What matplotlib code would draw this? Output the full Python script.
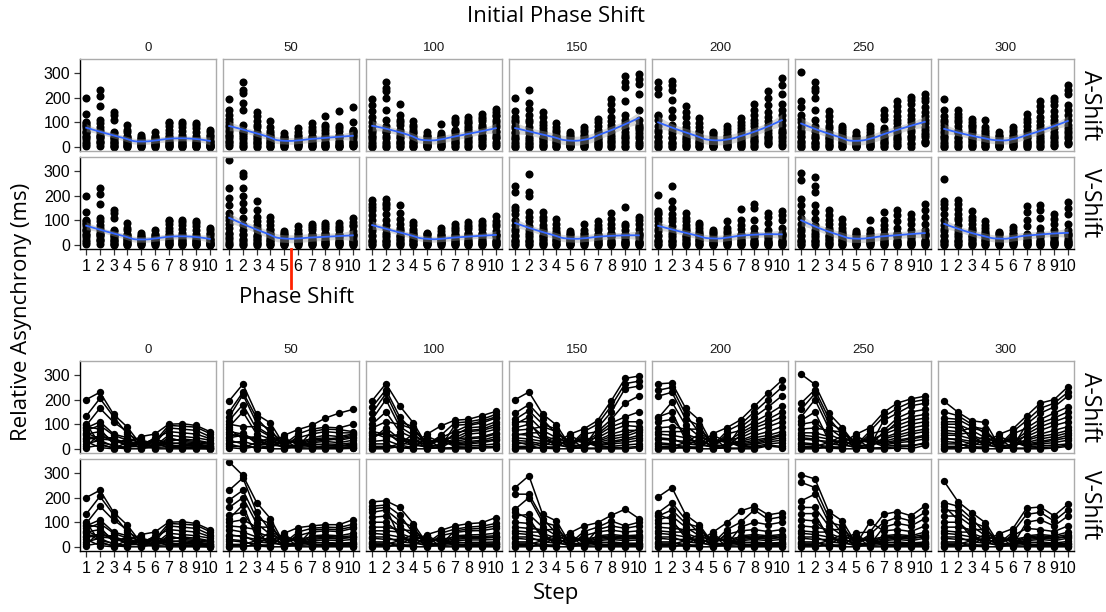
import numpy as np
import matplotlib
matplotlib.use("Agg")
import matplotlib.pyplot as plt
from matplotlib.transforms import blended_transform_factory

#%% DATA
# each panel: rows = steps 1..10, columns = participants (same column = same person)
steps = list(range(1, 11))
phases = [0, 50, 100, 150, 200, 250, 300]
conditions = ["A-Shift", "V-Shift"]
yticks = [0, 100, 200, 300]

a_0 = [
    [200, 133, 95, 85, 60, 20, 75, 5, 45, 90, 30, 65, 10, 55, 40, 100],
    [230, 205, 165, 110, 70, 35, 95, 15, 50, 80, 5, 40, 60, 25, 45, 20],
    [140, 130, 108, 60, 30, 10, 55, 5, 40, 20, 0, 35, 25, 15, 45, 2],
    [88, 60, 70, 45, 20, 5, 35, 0, 25, 40, 10, 15, 30, 3, 8, 26],
    [15, 30, 8, 22, 5, 40, 12, 0, 50, 25, 35, 18, 3, 28, 10, 19],
    [10, 25, 3, 35, 18, 0, 45, 12, 60, 30, 22, 40, 6, 15, 28, 8],
    [20, 5, 40, 10, 25, 0, 15, 55, 100, 95, 85, 70, 8, 30, 3, 45],
    [25, 8, 35, 3, 20, 0, 12, 50, 102, 92, 80, 65, 5, 40, 15, 30],
    [20, 5, 30, 2, 15, 0, 10, 45, 95, 88, 75, 60, 3, 35, 12, 25],
    [12, 3, 22, 0, 10, 0, 5, 35, 70, 62, 50, 42, 2, 25, 8, 18],
]
a_50 = [
    [195, 150, 130, 115, 60, 25, 90, 10, 45, 100, 35, 70, 5, 80, 50, 20],
    [263, 230, 220, 180, 50, 30, 150, 10, 55, 90, 20, 60, 0, 40, 65, 5],
    [140, 125, 105, 80, 45, 15, 60, 5, 30, 90, 0, 35, 10, 50, 20, 25],
    [105, 65, 80, 50, 25, 5, 40, 0, 20, 55, 10, 30, 35, 3, 15, 45],
    [15, 30, 8, 22, 5, 40, 12, 0, 55, 25, 35, 18, 3, 45, 10, 20],
    [10, 25, 3, 35, 18, 0, 45, 12, 78, 30, 22, 60, 6, 15, 50, 8],
    [15, 5, 30, 10, 25, 0, 60, 45, 95, 40, 20, 80, 8, 35, 3, 70],
    [20, 8, 35, 3, 30, 0, 70, 55, 125, 45, 15, 88, 5, 40, 12, 80],
    [18, 5, 40, 2, 25, 0, 65, 50, 145, 35, 12, 85, 3, 45, 10, 78],
    [25, 10, 50, 5, 35, 2, 65, 60, 160, 45, 20, 100, 8, 55, 15, 70],
]
a_100 = [
    [196, 170, 145, 120, 70, 30, 100, 10, 55, 85, 20, 40, 0, 65, 45, 5],
    [265, 240, 225, 200, 60, 35, 150, 10, 60, 110, 20, 85, 0, 45, 70, 5],
    [175, 130, 110, 90, 50, 15, 70, 5, 35, 100, 0, 40, 10, 60, 25, 20],
    [105, 70, 90, 55, 25, 5, 45, 0, 20, 80, 10, 35, 40, 3, 15, 60],
    [12, 30, 5, 20, 3, 45, 10, 0, 60, 25, 38, 15, 2, 50, 8, 18],
    [15, 35, 5, 50, 20, 0, 45, 10, 93, 40, 25, 55, 3, 28, 40, 8],
    [30, 10, 35, 15, 40, 0, 70, 65, 116, 45, 20, 105, 5, 55, 25, 95],
    [40, 12, 60, 20, 45, 0, 95, 75, 120, 70, 25, 110, 5, 85, 30, 100],
    [45, 15, 65, 25, 50, 3, 105, 80, 135, 75, 30, 120, 8, 90, 35, 112],
    [60, 20, 80, 35, 65, 5, 125, 100, 152, 90, 40, 140, 10, 110, 50, 130],
]
a_150 = [
    [200, 145, 120, 100, 60, 20, 85, 5, 45, 75, 30, 110, 0, 55, 35, 10],
    [231, 180, 155, 130, 55, 25, 100, 5, 40, 80, 15, 110, 0, 65, 30, 10],
    [141, 120, 100, 75, 40, 10, 55, 3, 30, 90, 0, 35, 8, 65, 20, 25],
    [97, 60, 80, 45, 20, 5, 35, 0, 25, 70, 10, 30, 40, 3, 15, 50],
    [12, 30, 5, 20, 3, 45, 10, 0, 60, 25, 38, 15, 2, 52, 8, 18],
    [15, 30, 5, 45, 20, 0, 60, 10, 81, 35, 25, 70, 3, 28, 50, 8],
    [25, 8, 35, 12, 30, 0, 70, 55, 115, 45, 15, 100, 3, 60, 20, 85],
    [40, 10, 60, 20, 50, 0, 120, 90, 196, 75, 25, 175, 5, 105, 30, 150],
    [50, 15, 75, 25, 60, 0, 186, 110, 286, 95, 35, 265, 5, 130, 40, 245],
    [70, 20, 75, 35, 80, 5, 215, 110, 296, 90, 45, 275, 10, 150, 55, 255],
]
a_200 = [
    [264, 238, 214, 125, 60, 20, 110, 5, 40, 85, 25, 130, 0, 70, 45, 10],
    [268, 250, 230, 190, 55, 15, 120, 5, 35, 90, 20, 150, 0, 70, 40, 10],
    [165, 140, 120, 95, 45, 10, 60, 3, 30, 80, 0, 35, 8, 70, 20, 25],
    [116, 65, 95, 50, 25, 5, 40, 0, 20, 80, 10, 30, 45, 3, 15, 60],
    [12, 30, 5, 22, 3, 48, 10, 0, 62, 25, 40, 15, 2, 55, 8, 18],
    [15, 30, 5, 45, 20, 0, 60, 10, 86, 35, 25, 72, 3, 28, 50, 8],
    [25, 8, 35, 12, 30, 0, 75, 55, 118, 45, 15, 100, 3, 65, 20, 88],
    [35, 10, 55, 18, 45, 0, 110, 85, 173, 70, 22, 150, 5, 95, 28, 130],
    [45, 20, 70, 28, 55, 12, 140, 105, 227, 90, 35, 200, 15, 120, 40, 170],
    [60, 25, 90, 35, 70, 5, 175, 130, 278, 110, 45, 250, 10, 150, 55, 215],
]
a_250 = [
    [303, 186, 160, 130, 55, 20, 100, 5, 40, 80, 25, 115, 0, 65, 45, 10],
    [262, 240, 225, 200, 50, 15, 110, 5, 35, 85, 20, 150, 0, 65, 40, 10],
    [145, 125, 105, 85, 40, 10, 60, 3, 30, 75, 0, 35, 8, 50, 20, 25],
    [86, 60, 75, 45, 20, 5, 35, 0, 25, 68, 10, 30, 40, 3, 15, 52],
    [12, 30, 5, 20, 3, 45, 10, 0, 59, 25, 38, 15, 2, 50, 8, 18],
    [15, 30, 5, 45, 20, 0, 60, 10, 86, 35, 25, 72, 3, 28, 50, 8],
    [30, 10, 45, 15, 40, 0, 75, 70, 148, 60, 20, 130, 5, 60, 25, 115],
    [45, 15, 65, 25, 55, 3, 125, 95, 186, 80, 30, 165, 8, 110, 35, 145],
    [60, 15, 85, 30, 70, 0, 150, 115, 203, 100, 40, 190, 10, 130, 45, 175],
    [70, 20, 95, 40, 80, 14, 160, 125, 214, 110, 50, 200, 25, 140, 55, 185],
]
a_300 = [
    [193, 150, 125, 100, 55, 20, 90, 5, 40, 75, 30, 110, 0, 65, 45, 10],
    [149, 135, 120, 100, 55, 20, 85, 5, 40, 70, 25, 110, 0, 60, 35, 10],
    [114, 100, 90, 75, 40, 10, 55, 3, 30, 85, 0, 35, 8, 65, 20, 25],
    [107, 60, 80, 45, 20, 5, 35, 0, 25, 70, 10, 30, 40, 3, 15, 52],
    [12, 30, 5, 20, 3, 45, 10, 0, 59, 25, 38, 15, 2, 50, 8, 18],
    [15, 30, 5, 45, 20, 0, 60, 10, 81, 35, 25, 70, 3, 28, 50, 8],
    [25, 8, 40, 12, 35, 0, 85, 60, 134, 50, 15, 115, 3, 70, 20, 100],
    [40, 12, 60, 20, 50, 0, 120, 90, 186, 75, 25, 165, 5, 105, 30, 145],
    [50, 15, 75, 25, 60, 3, 145, 110, 200, 95, 35, 185, 8, 125, 40, 170],
    [65, 20, 90, 35, 75, 10, 170, 130, 252, 110, 45, 230, 15, 150, 55, 215],
]
# phase 0: no shift, same trials in both rows
v_0 = a_0
v_50 = [
    [345, 230, 190, 160, 70, 25, 130, 5, 50, 100, 30, 115, 0, 85, 45, 10],
    [290, 280, 230, 200, 60, 20, 140, 5, 40, 110, 25, 170, 0, 80, 45, 10],
    [180, 140, 115, 95, 40, 10, 60, 3, 30, 80, 0, 35, 8, 70, 20, 25],
    [115, 65, 95, 50, 25, 5, 40, 0, 20, 80, 10, 30, 45, 3, 15, 60],
    [12, 30, 5, 22, 3, 45, 10, 0, 55, 25, 40, 15, 2, 50, 8, 18],
    [10, 25, 3, 35, 18, 0, 45, 12, 78, 30, 22, 60, 6, 15, 50, 8],
    [15, 5, 30, 10, 25, 0, 60, 45, 85, 40, 20, 75, 8, 35, 3, 68],
    [18, 5, 35, 8, 28, 0, 65, 48, 90, 42, 15, 80, 3, 38, 10, 72],
    [15, 5, 32, 8, 25, 0, 62, 45, 90, 40, 12, 78, 3, 35, 10, 70],
    [18, 5, 40, 10, 30, 0, 75, 55, 110, 45, 15, 92, 3, 38, 10, 82],
]
v_100 = [
    [183, 165, 140, 120, 55, 15, 100, 5, 35, 80, 20, 155, 0, 65, 40, 10],
    [187, 170, 150, 125, 50, 15, 100, 5, 30, 80, 20, 160, 0, 65, 40, 10],
    [160, 130, 105, 85, 40, 10, 55, 3, 30, 70, 0, 35, 8, 60, 20, 25],
    [94, 55, 80, 45, 20, 5, 35, 0, 25, 65, 10, 30, 40, 3, 15, 50],
    [12, 28, 5, 20, 3, 42, 10, 0, 50, 25, 35, 15, 2, 46, 8, 18],
    [10, 25, 3, 35, 18, 0, 45, 12, 67, 30, 22, 55, 6, 15, 40, 8],
    [15, 5, 30, 10, 25, 0, 58, 45, 85, 40, 20, 72, 8, 35, 3, 65],
    [18, 5, 35, 8, 28, 0, 65, 48, 94, 42, 15, 80, 3, 38, 10, 72],
    [18, 5, 35, 8, 28, 0, 66, 50, 98, 42, 15, 84, 3, 38, 10, 75],
    [20, 5, 40, 10, 30, 0, 75, 55, 119, 45, 15, 95, 3, 38, 10, 85],
]
v_150 = [
    [241, 214, 153, 125, 55, 15, 100, 5, 35, 80, 20, 140, 0, 65, 40, 10],
    [289, 214, 200, 132, 50, 15, 95, 5, 30, 75, 20, 115, 0, 60, 40, 10],
    [132, 115, 100, 80, 40, 10, 55, 3, 30, 70, 0, 35, 8, 60, 20, 25],
    [105, 55, 85, 45, 20, 5, 35, 0, 25, 70, 10, 30, 40, 3, 15, 50],
    [12, 30, 5, 22, 3, 45, 10, 0, 57, 25, 38, 15, 2, 50, 8, 18],
    [10, 25, 3, 35, 18, 0, 45, 12, 85, 30, 22, 62, 6, 15, 50, 8],
    [15, 5, 30, 10, 25, 0, 60, 45, 98, 40, 20, 80, 8, 35, 3, 70],
    [20, 5, 35, 8, 30, 0, 68, 50, 128, 45, 15, 105, 3, 40, 10, 85],
    [15, 5, 32, 8, 25, 0, 60, 45, 153, 40, 12, 85, 3, 35, 10, 75],
    [15, 5, 35, 8, 28, 0, 65, 48, 115, 42, 12, 100, 3, 38, 10, 85],
]
v_200 = [
    [203, 139, 125, 110, 55, 15, 95, 5, 35, 80, 20, 130, 0, 65, 40, 10],
    [241, 180, 150, 125, 50, 15, 95, 5, 30, 75, 20, 110, 0, 60, 40, 10],
    [130, 110, 95, 80, 40, 10, 55, 3, 30, 70, 0, 35, 8, 60, 20, 25],
    [89, 55, 80, 45, 20, 5, 35, 0, 25, 70, 10, 30, 40, 3, 15, 50],
    [12, 30, 5, 22, 3, 48, 10, 0, 60, 25, 40, 15, 2, 52, 8, 18],
    [10, 25, 3, 35, 18, 0, 50, 12, 98, 30, 22, 70, 6, 15, 55, 8],
    [15, 5, 30, 10, 25, 0, 65, 45, 146, 40, 20, 100, 8, 35, 3, 80],
    [20, 5, 35, 8, 30, 0, 70, 50, 164, 45, 15, 150, 3, 40, 10, 100],
    [15, 5, 32, 8, 25, 0, 62, 45, 130, 40, 12, 112, 3, 35, 10, 90],
    [18, 5, 38, 10, 30, 0, 70, 50, 139, 45, 15, 122, 3, 38, 10, 100],
]
v_250 = [
    [293, 262, 187, 160, 55, 15, 110, 5, 35, 85, 20, 135, 0, 65, 40, 10],
    [276, 241, 214, 160, 50, 15, 105, 5, 30, 80, 20, 135, 0, 60, 40, 10],
    [143, 120, 100, 85, 40, 10, 55, 3, 30, 70, 0, 35, 8, 60, 20, 25],
    [105, 55, 85, 45, 20, 5, 35, 0, 25, 70, 10, 30, 40, 3, 15, 50],
    [12, 30, 5, 22, 3, 45, 10, 0, 57, 25, 38, 15, 2, 50, 8, 18],
    [10, 25, 3, 35, 18, 0, 101, 12, 60, 30, 22, 50, 6, 15, 45, 8],
    [15, 5, 30, 10, 25, 0, 65, 45, 132, 40, 20, 100, 8, 35, 3, 80],
    [20, 5, 35, 8, 30, 0, 70, 50, 143, 45, 15, 120, 3, 40, 10, 95],
    [15, 5, 32, 8, 25, 0, 62, 45, 126, 40, 12, 105, 3, 35, 10, 85],
    [20, 5, 45, 10, 35, 0, 85, 60, 166, 50, 15, 140, 3, 40, 10, 115],
]
v_300 = [
    [266, 180, 150, 125, 55, 15, 100, 5, 35, 80, 20, 165, 0, 65, 40, 10],
    [184, 165, 145, 125, 50, 15, 100, 5, 30, 80, 20, 110, 0, 60, 40, 10],
    [139, 115, 100, 85, 40, 10, 55, 3, 30, 70, 0, 35, 8, 60, 20, 25],
    [98, 55, 80, 45, 20, 5, 35, 0, 25, 70, 10, 30, 40, 3, 15, 50],
    [12, 28, 5, 22, 3, 45, 10, 0, 53, 25, 38, 15, 2, 48, 8, 18],
    [10, 25, 3, 35, 18, 0, 45, 12, 74, 30, 22, 60, 6, 15, 50, 8],
    [15, 5, 30, 10, 25, 0, 75, 45, 157, 40, 20, 132, 8, 35, 3, 100],
    [20, 5, 35, 8, 30, 0, 70, 50, 162, 45, 15, 140, 3, 40, 10, 110],
    [15, 5, 32, 8, 25, 0, 62, 45, 126, 40, 12, 105, 3, 35, 10, 85],
    [22, 5, 45, 10, 35, 0, 85, 60, 173, 50, 15, 150, 3, 40, 10, 125],
]

panels = {
    "A-Shift": [a_0, a_50, a_100, a_150, a_200, a_250, a_300],
    "V-Shift": [v_0, v_50, v_100, v_150, v_200, v_250, v_300],
}


#%% LOESS (local quadratic, tricube weights, like geom_smooth)
def loess(x, y, grid, span=0.75):
    n = len(x)
    q = int(np.floor(n * span))

    def row(x0):
        d = np.abs(x - x0)
        h = np.sort(d)[q - 1]
        w = np.clip(1 - (d / h) ** 3, 0, 1) ** 3
        X = np.column_stack([np.ones(n), x - x0, (x - x0) ** 2])
        XtW = X.T * w
        return np.linalg.solve(XtW @ X, XtW)[0]

    L = np.array([row(x0) for x0 in x])
    resid = y - L @ y
    sigma = np.sqrt(np.sum(resid ** 2) / (n - np.trace(L)))
    G = np.array([row(g) for g in grid])
    return G @ y, 1.96 * sigma * np.sqrt(np.sum(G ** 2, axis=1))


#%% PLOT
W, H = 1106, 612
fig = plt.figure(figsize=(W / 100, H / 100), dpi=100)

col_left = [80, 223, 366, 509, 652, 795, 938]
pw, ph = 136, 92
blocks = {"points": [59, 157], "lines": [361, 459]}
tick_font = "Liberation Sans"
label_font = "Open Sans"
border = "#ABABAB"

grid = np.linspace(1, 10, 80)

for kind, row_tops in blocks.items():
    for r, cond in enumerate(conditions):
        for c, phase in enumerate(phases):
            top = row_tops[r]
            ax = fig.add_axes([col_left[c] / W, 1 - (top + ph) / H, pw / W, ph / H])
            arr = np.array(panels[cond][c], dtype=float)
            xs = np.repeat(steps, arr.shape[1]).astype(float)

            if kind == "points":
                ax.plot(xs, arr.ravel(), "o", color="black", ms=5.8, mew=0)
                fit, band = loess(xs, arr.ravel(), grid)
                ax.fill_between(grid, fit - band, fit + band, color="#999999",
                                alpha=0.4, lw=0, zorder=3)
                ax.plot(grid, fit, color="#3366FF", lw=1.3, zorder=4)
            else:
                for j in range(arr.shape[1]):
                    ax.plot(steps, arr[:, j], "-o", color="black", lw=1.1,
                            ms=5.3, mew=0)

            ax.set_xlim(0.55, 10.45)
            ax.set_ylim(-17, 357)
            for s in ax.spines.values():
                s.set_color(border)
                s.set_linewidth(1.0)

            ax.tick_params(length=4.5, width=0.9, color="#333333", pad=2.5,
                           labelsize=11.5)
            ax.set_yticks(yticks)
            ax.set_xticks(steps)
            if c == 0:
                ax.spines["left"].set_color("black")
                ax.set_yticklabels([str(v) for v in yticks], family=tick_font)
            else:
                ax.tick_params(axis="y", left=False, labelleft=False)
            if r == 1:
                ax.spines["bottom"].set_color("black")
                ax.set_xticklabels([str(v) for v in steps], family=tick_font)
            else:
                ax.tick_params(axis="x", bottom=False, labelbottom=False)

            if r == 0:
                ax.text(0.5, 1 + 11 / ph, str(phase), transform=ax.transAxes,
                        ha="center", va="center", fontsize=9.5, family=tick_font,
                        color="#1A1A1A")
            if c == len(phases) - 1:
                fig.text(1090 / W, 1 - (top + ph / 2) / H, cond, rotation=-90,
                         ha="center", va="center", fontsize=16.5, family=label_font)

            # marker for where the phase shift happens
            if kind == "points" and cond == "V-Shift" and phase == 50:
                tr = blended_transform_factory(ax.transData, ax.transAxes)
                ax.plot([5.5, 5.5], [0, -0.42], color="#FF2200", lw=2,
                        transform=tr, clip_on=False, zorder=5)

fig.text(556 / W, 1 - 16 / H, "Initial Phase Shift", ha="center", va="center",
         fontsize=16, family=label_font)
fig.text(297 / W, 1 - 297 / H, "Phase Shift", ha="center", va="center",
         fontsize=16, family=label_font)
fig.text(556 / W, 1 - 593 / H, "Step", ha="center", va="center",
         fontsize=16, family=label_font)
fig.text(22 / W, 1 - 312 / H, "Relative Asynchrony (ms)", rotation=90,
         ha="center", va="center", fontsize=16, family=label_font)

fig.savefig("out.png", dpi=100)
